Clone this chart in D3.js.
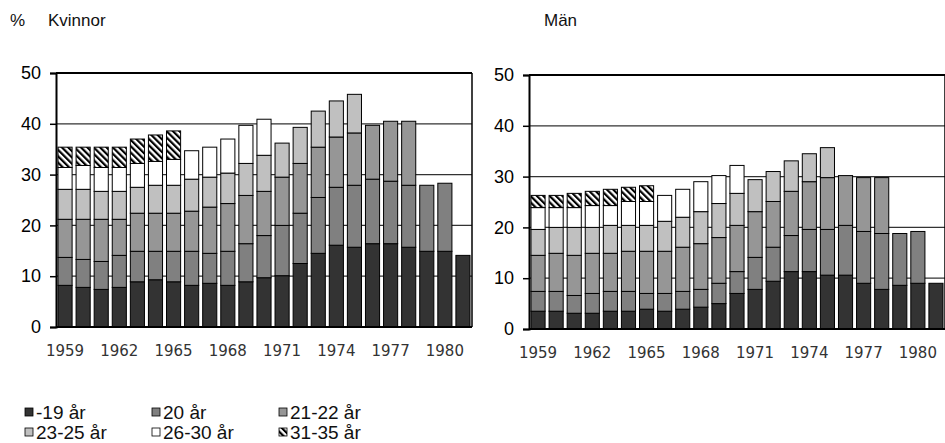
<!DOCTYPE html>
<html>
<head>
<meta charset="utf-8">
<script src="https://cdn.jsdelivr.net/npm/d3@7"></script>
<style>
  body { margin: 0; background: #fff; }
  text { font-family: "Liberation Sans", Arial, sans-serif; }
  .xaxis text { font-family: "DejaVu Sans", sans-serif; }
</style>
</head>
<body>
<svg id="chart"></svg>
<script>
var years = d3.range(1959, 1982);
var tickYears = [1959, 1962, 1965, 1968, 1971, 1974, 1977, 1980];
var yTicks = [0, 10, 20, 30, 40, 50];
var ageGroups = ["-19 år", "20 år", "21-22 år", "23-25 år", "26-30 år", "31-35 år"];
var groupFills = ["#333333", "#808080", "#969696", "#c0c0c0", "#ffffff", "url(#hatch)"];

// Kvinnor, procent per åldersgrupp (null = saknas)
var kv19   = [8.2, 7.8, 7.4, 7.8, 8.9, 9.3, 8.9, 8.2, 8.6, 8.2, 8.9, 9.7, 10.1, 12.5, 14.5, 16.1, 15.7, 16.4, 16.4, 15.7, 14.9, 14.9, 14.1];
var kv20   = [5.5, 5.5, 5.5, 6.3, 6.0, 5.6, 6.0, 6.7, 5.9, 6.7, 7.5, 8.3, 9.9, 9.9, 11.0, 11.4, 12.2, 12.7, 12.3, 12.2, 13.0, 13.4, null];
var kv2122 = [7.5, 7.9, 8.3, 7.1, 7.5, 7.5, 7.5, 7.9, 9.1, 9.4, 9.5, 8.7, 9.5, 9.8, 9.9, 9.9, 10.3, 10.6, 11.8, 12.6, null, null, null];
var kv2325 = [5.9, 5.9, 5.5, 5.5, 5.1, 5.5, 5.5, 6.3, 5.9, 6.0, 6.3, 7.1, 6.7, 7.1, 7.1, 7.1, 7.6, null, null, null, null, null, null];
var kv2630 = [4.3, 4.7, 4.7, 4.7, 4.7, 4.7, 5.1, 5.6, 5.9, 6.7, 7.5, 7.1, null, null, null, null, null, null, null, null, null, null, null];
var kv3135 = [4.0, 3.6, 4.0, 4.0, 4.8, 5.2, 5.6, null, null, null, null, null, null, null, null, null, null, null, null, null, null, null, null];

// Män
var m19   = [3.5, 3.5, 3.1, 3.1, 3.5, 3.5, 3.9, 3.5, 3.9, 4.3, 5.0, 7.0, 7.8, 9.4, 11.3, 11.3, 10.6, 10.6, 9.0, 7.8, 8.6, 9.0, 9.0];
var m20   = [3.9, 3.9, 3.5, 3.9, 3.9, 3.9, 3.1, 3.5, 3.5, 3.5, 4.0, 4.3, 6.3, 6.7, 7.1, 8.3, 9.0, 9.8, 10.2, 11.0, 10.2, 10.2, null];
var m2122 = [7.1, 7.5, 7.9, 7.9, 7.5, 7.9, 8.3, 8.3, 8.7, 9.0, 9.0, 9.1, 9.0, 9.0, 8.7, 9.4, 10.2, 9.8, 10.6, 11.0, null, null, null];
var m2325 = [5.1, 5.1, 5.5, 5.1, 5.5, 5.1, 5.1, 5.9, 5.9, 6.3, 6.7, 6.3, 6.3, 5.9, 6.0, 5.5, 5.9, null, null, null, null, null, null];
var m2630 = [4.3, 3.9, 3.9, 4.3, 3.9, 4.7, 4.7, 5.1, 5.5, 5.9, 5.5, 5.5, null, null, null, null, null, null, null, null, null, null, null];
var m3135 = [2.4, 2.4, 2.8, 2.8, 3.2, 2.8, 3.1, null, null, null, null, null, null, null, null, null, null, null, null, null, null, null, null];

var kvinnor = [kv19, kv20, kv2122, kv2325, kv2630, kv3135];
var man = [m19, m20, m2122, m2325, m2630, m3135];

var svg = d3.select("#chart").attr("width", 945).attr("height", 443);

// hatch pattern for 31-35
var pat = svg.append("defs").append("pattern")
  .attr("id", "hatch")
  .attr("patternUnits", "userSpaceOnUse")
  .attr("width", 4.5).attr("height", 4.5)
  .attr("patternTransform", "rotate(-45)");
pat.append("rect").attr("width", 4.5).attr("height", 4.5).attr("fill", "#fff");
pat.append("rect").attr("width", 2.2).attr("height", 4.5).attr("fill", "#000");

var panelW = 416, panelH = 254;

var drawPanel = function(left, top, series, title, titleX) {
  var g = svg.append("g").attr("transform", "translate(" + left + "," + top + ")");

  var x = d3.scaleBand().domain(years).range([0, panelW]).paddingInner(0.22).paddingOuter(0.11),
    y = d3.scaleLinear().domain([0, 50]).range([panelH, 0]);

  // gridlines
  g.append("g").selectAll("line").data(yTicks.filter(function(d) { return d > 0 && d < 50; }))
    .enter().append("line")
      .attr("x1", 0).attr("x2", panelW)
      .attr("y1", function(d) { return y(d); }).attr("y2", function(d) { return y(d); })
      .attr("stroke", "#333").attr("stroke-width", 1.2);

  // stacked bars
  var stacks = years.map(function(yr, i) {
    var base = 0, segs = [];
    series.forEach(function(s, k) {
      if (s[i] != null) {
        segs.push({year: yr, k: k, y0: base, y1: base + s[i]});
        base += s[i];
      }
    });
    return segs;
  });
  var segs = [].concat.apply([], stacks);
  g.append("g").selectAll("rect").data(segs).enter().append("rect")
    .attr("x", function(d) { return x(d.year); })
    .attr("width", x.bandwidth())
    .attr("y", function(d) { return y(d.y1); })
    .attr("height", function(d) { return y(d.y0) - y(d.y1); })
    .attr("fill", function(d) { return groupFills[d.k]; })
    .attr("stroke", "#000").attr("stroke-width", 1);

  // frame: top and right
  g.append("line").attr("x1", 0).attr("x2", panelW).attr("y1", y(50)).attr("y2", y(50))
    .attr("stroke", "#000").attr("stroke-width", 2);
  g.append("line").attr("x1", panelW).attr("x2", panelW).attr("y1", 0).attr("y2", panelH)
    .attr("stroke", "#000").attr("stroke-width", 1.5);

  var yAxis = d3.axisLeft(y).tickValues(yTicks).tickSize(6).tickPadding(9);
  var ya = g.append("g").attr("class", "yaxis").call(yAxis);
  ya.select(".domain").attr("stroke-width", 2);
  ya.selectAll(".tick line").attr("stroke-width", 1.5);
  ya.selectAll("text").attr("font-size", 18).attr("fill", "#000")
    .attr("font-family", "Liberation Sans, Arial, sans-serif");

  var xAxis = d3.axisBottom(x).tickValues(tickYears).tickSize(0).tickPadding(18);
  var xa = g.append("g").attr("class", "xaxis")
    .attr("transform", "translate(0," + panelH + ")").call(xAxis);
  xa.select(".domain").attr("stroke-width", 2).attr("d", "M0,0H" + panelW);
  xa.selectAll("text").attr("font-size", 15).attr("fill", "#333");

  svg.append("text").attr("x", titleX).attr("y", 26)
    .attr("font-size", 17).attr("fill", "#111").text(title);
};

drawPanel(56, 73, kvinnor, "Kvinnor", 48);
drawPanel(529, 75, man, "Män", 544);
svg.append("text").attr("x", 10).attr("y", 26)
  .attr("font-size", 17).attr("fill", "#111").text("%");

// legend
var legendCols = [25, 152, 279], legendRows = [413, 433];
var lg = svg.append("g").selectAll("g").data(ageGroups).enter().append("g")
  .attr("transform", function(d, i) {
    return "translate(" + legendCols[i % 3] + "," + legendRows[Math.floor(i / 3)] + ")";
  });
lg.append("rect").attr("x", 0).attr("y", -5).attr("width", 8).attr("height", 8)
  .attr("fill", function(d, i) { return groupFills[i]; })
  .attr("stroke", "#000").attr("stroke-width", 0.8);
lg.append("text").attr("x", 11).attr("y", 6).attr("font-size", 19).attr("fill", "#111")
  .text(function(d) { return d; });
</script>
</body>
</html>
